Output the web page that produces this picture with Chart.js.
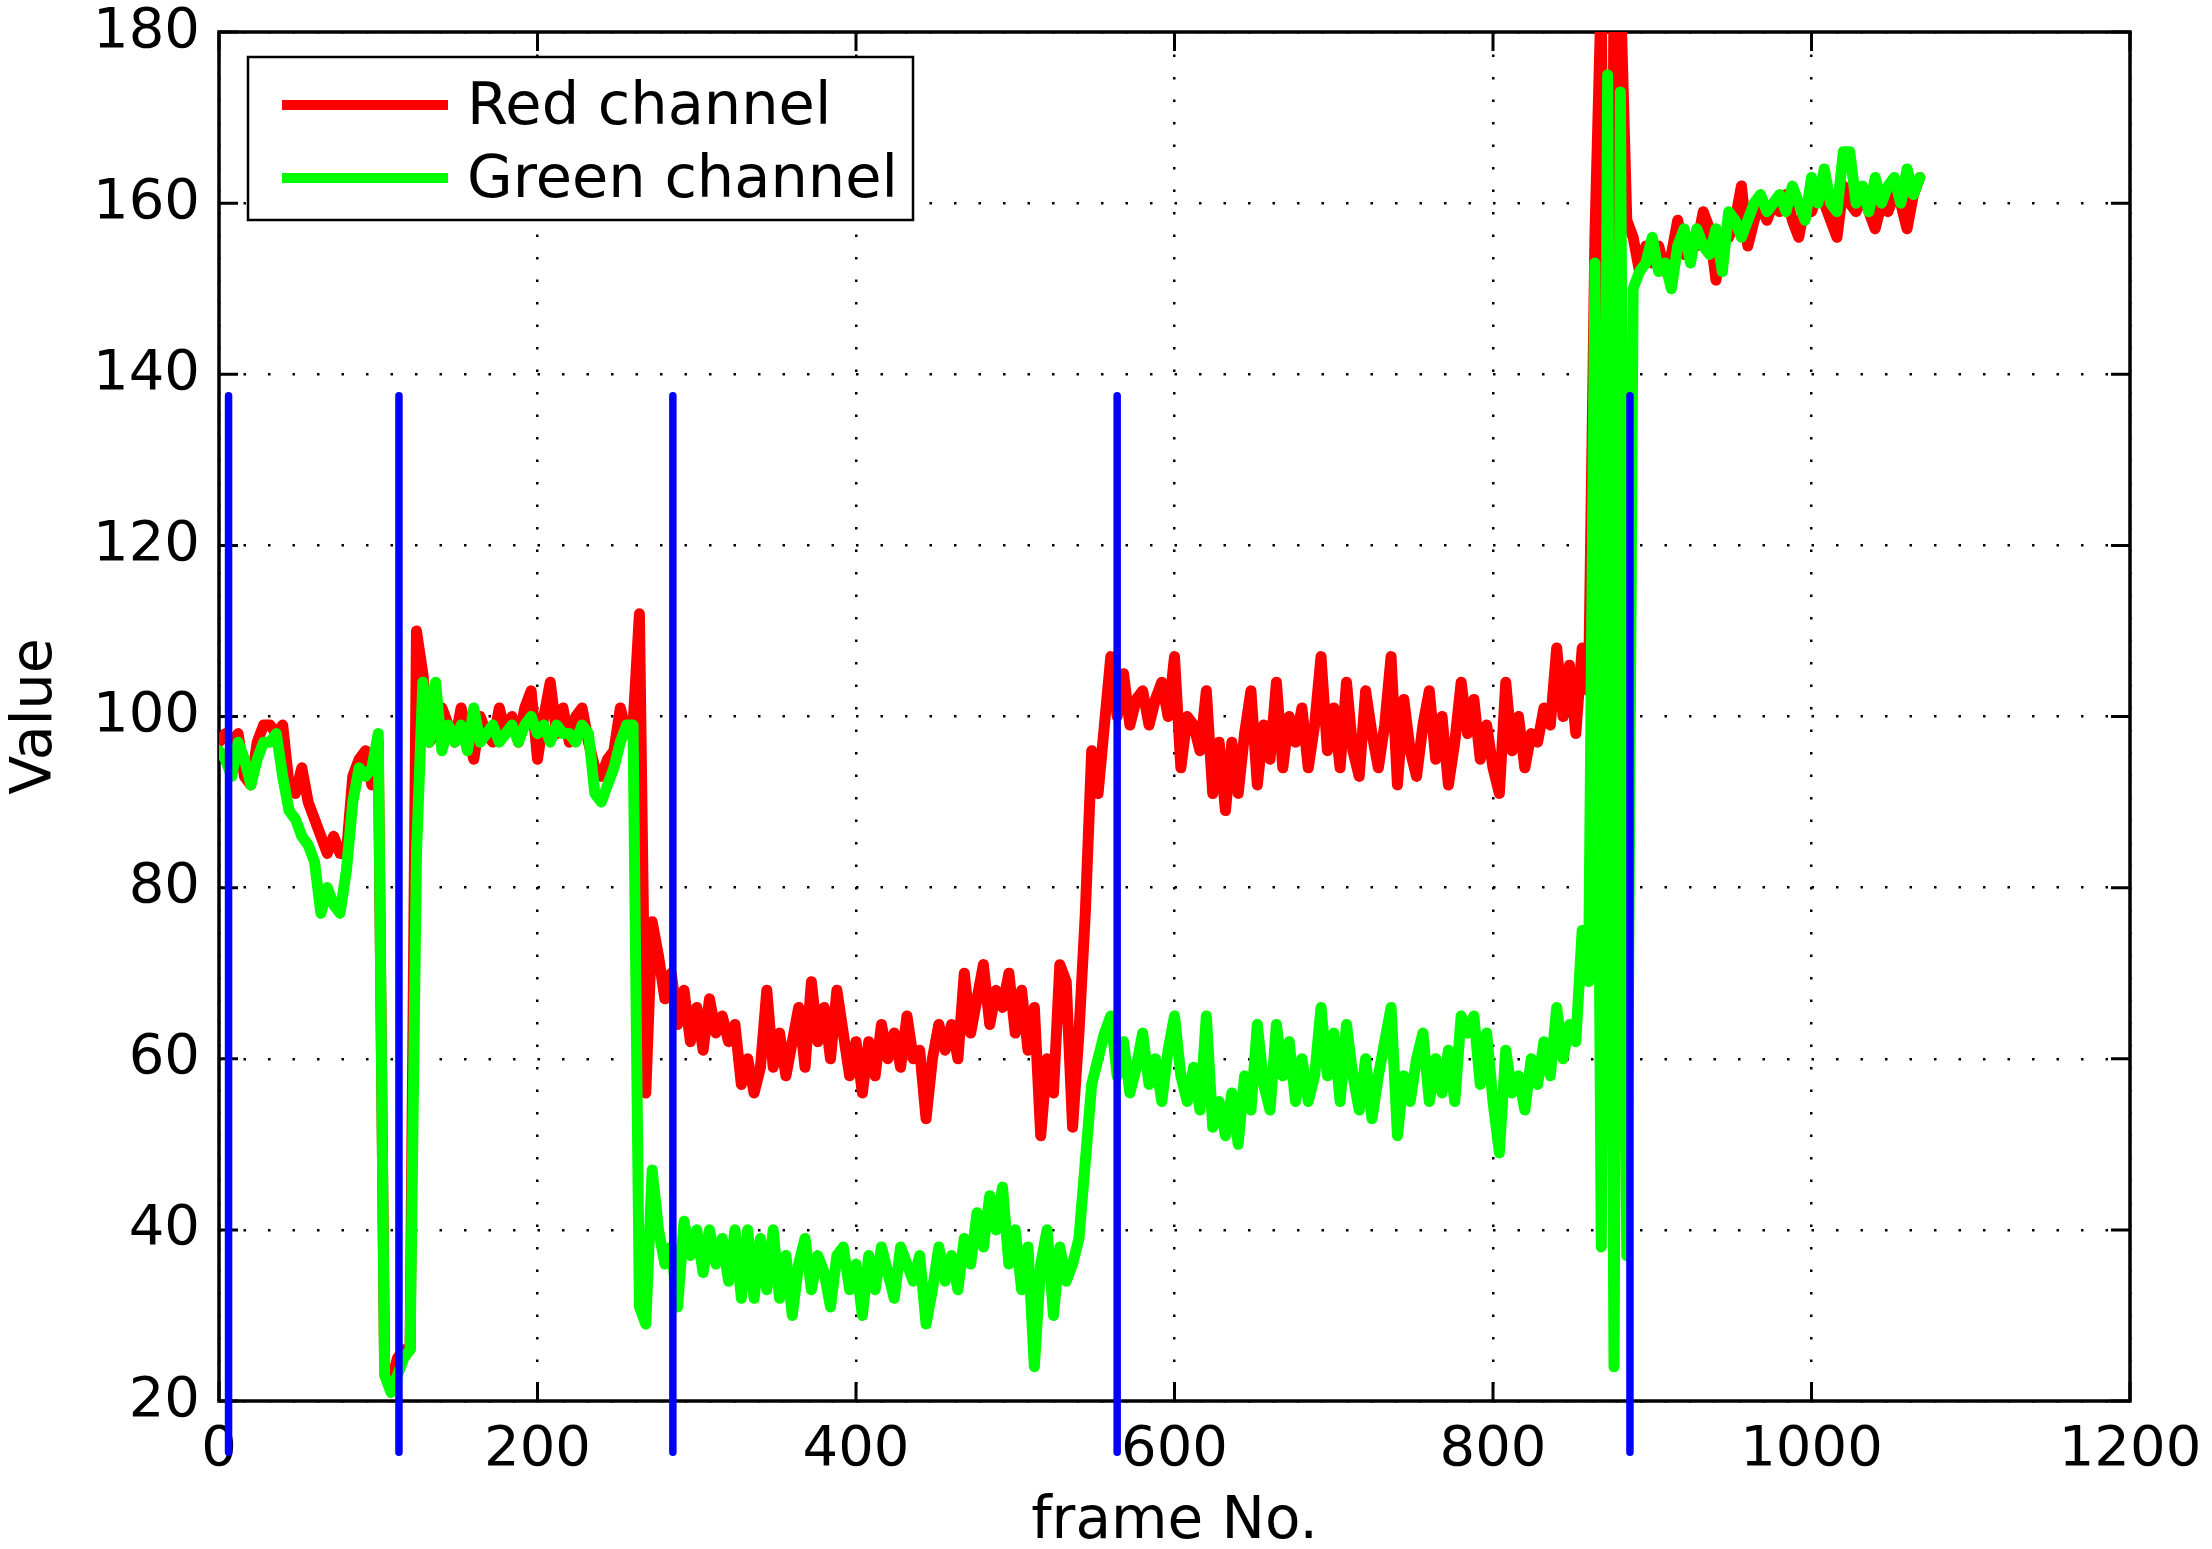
<!DOCTYPE html>
<html>
<head>
<meta charset="utf-8">
<title>Red / Green channel</title>
<script src="https://cdn.jsdelivr.net/npm/chart.js@4.4.1/dist/chart.umd.min.js"></script>
<style>
html,body{margin:0;padding:0;background:#fff;}
canvas{display:block;}
</style>
</head>
<body>
<canvas id="chart" width="2212" height="1549"></canvas>
<script>
// ---------- DATA ----------
// one sample every STEP frames, starting at frame 0
const STEP = 4;

const red = [
  97, 98, 97, 98, 93, 92, 97, 99, 99, 98,        // 0-36
  99, 92, 91, 94, 90, 88, 86, 84, 86, 84,        // 40-76
  84, 93, 95, 96, 92, 97, 24, 22, 25, 26,        // 80-116
  26, 110, 105, 97, 98, 101, 99, 97, 101, 98,    // 120-156
  95, 100, 98, 97, 101, 98, 100, 97, 101, 103,   // 160-196
  95, 100, 104, 98, 101, 97, 100, 101, 97, 94,   // 200-236
  93, 95, 96, 101, 98, 99, 112, 56, 76, 72,      // 240-276
  67, 70, 64, 68, 62, 66, 61, 67, 63, 65,        // 280-316
  62, 64, 57, 60, 56, 59, 68, 59, 63, 58,        // 320-356
  62, 66, 59, 69, 62, 66, 60, 68, 63, 58,        // 360-396
  62, 56, 62, 58, 64, 60, 63, 59, 65, 60,        // 400-436
  61, 53, 60, 64, 61, 64, 60, 70, 63, 67,        // 440-476
  71, 64, 68, 66, 70, 63, 68, 61, 66, 51,        // 480-516
  60, 56, 71, 69, 52, 63, 77, 96, 91, 99,        // 520-556
  107, 100, 105, 99, 102, 103, 99, 102, 104, 100,// 560-596
  107, 94, 100, 99, 96, 103, 91, 97, 89, 97,     // 600-636
  91, 98, 103, 92, 99, 95, 104, 94, 100, 97,     // 640-676
  101, 94, 99, 107, 96, 101, 94, 104, 96, 93,    // 680-716
  103, 98, 94, 99, 107, 92, 102, 96, 93, 99,     // 720-756
  103, 95, 100, 92, 97, 104, 98, 102, 95, 99,    // 760-796
  94, 91, 104, 96, 100, 94, 98, 97, 101, 99,     // 800-836
  108, 100, 106, 98, 108, 103, 156, 185, 58, 185,// 840-876
  185, 158, 156, 152, 155, 153, 155, 152, 154, 158, // 880-916
  154, 156, 155, 159, 157, 151, 156, 156, 158, 162, // 920-956
  155, 158, 160, 158, 160, 159, 161, 158, 156, 160, // 960-996
  159, 161, 160, 158, 156, 162, 160, 159, 161, 159, // 1000-1036
  157, 160, 159, 161, 160, 157, 161, 163            // 1040-1068
];

const green = [
  96, 95, 93, 97, 95, 92, 95, 97, 97, 98,        // 0-36
  93, 89, 88, 86, 85, 83, 77, 80, 78, 77,        // 40-76
  82, 90, 94, 93, 94, 98, 23, 21, 23, 25,        // 80-116
  26, 84, 104, 97, 104, 96, 99, 97, 99, 96,      // 120-156
  101, 97, 98, 99, 97, 98, 99, 97, 99, 100,      // 160-196
  98, 99, 97, 99, 98, 98, 97, 99, 98, 91,        // 200-236
  90, 92, 94, 97, 99, 99, 31, 29, 47, 40,        // 240-276
  36, 38, 31, 41, 37, 40, 35, 40, 36, 39,        // 280-316
  34, 40, 32, 40, 32, 39, 33, 40, 32, 37,        // 320-356
  30, 36, 39, 33, 37, 35, 31, 37, 38, 33,        // 360-396
  36, 30, 37, 33, 38, 35, 32, 38, 36, 34,        // 400-436
  37, 29, 33, 38, 34, 37, 33, 39, 36, 42,        // 440-476
  38, 44, 40, 45, 36, 40, 33, 38, 24, 36,        // 480-516
  40, 30, 38, 34, 36, 39, 48, 57, 60, 63,        // 520-556
  65, 58, 62, 56, 59, 63, 57, 60, 55, 61,        // 560-596
  65, 58, 55, 59, 54, 65, 52, 55, 51, 56,        // 600-636
  50, 58, 54, 64, 57, 54, 64, 58, 62, 55,        // 640-676
  60, 55, 58, 66, 58, 63, 55, 64, 58, 54,        // 680-716
  60, 53, 58, 62, 66, 51, 58, 55, 60, 63,        // 720-756
  55, 60, 56, 61, 55, 65, 63, 65, 57, 63,        // 760-796
  55, 49, 61, 56, 58, 54, 60, 57, 62, 58,        // 800-836
  66, 60, 64, 62, 75, 69, 153, 38, 175, 24,      // 840-876
  173, 37, 150, 152, 153, 156, 152, 153, 150, 155,  // 880-916
  157, 153, 157, 155, 154, 157, 152, 159, 158, 156, // 920-956
  158, 160, 161, 159, 160, 161, 159, 162, 160, 158, // 960-996
  163, 160, 164, 160, 159, 166, 166, 160, 162, 159, // 1000-1036
  163, 160, 162, 163, 160, 164, 161, 163            // 1040-1068
];

// blue markers (shot boundaries), drawn from blueLow to blueHigh
const blueFrames = [6, 113, 285, 564, 886];
const blueLow = 14;
const blueHigh = 137.5;

const xTicks = [0, 200, 400, 600, 800, 1000, 1200];
const yTicks = [20, 40, 60, 80, 100, 120, 140, 160, 180];

// ---------- BUILD POINTS ----------
const frames = red.map((v, i) => i * STEP);
const redPts = frames.map((f, i) => ({x: f, y: red[i]}));
const greenPts = frames.map((f, i) => ({x: f, y: green[i]}));
const bluePts = [];
blueFrames.forEach(f => {
  bluePts.push({x: f, y: blueLow}, {x: f, y: blueHigh}, {x: f, y: null});
});

// ---------- PLUGINS ----------
const FONT = '"DejaVu Sans", "Liberation Sans", Arial, sans-serif';
const TICK = 19;

// matlab style box with inward ticks on all four sides
const axesBox = {
  id: 'axesBox',
  beforeDatasetsDraw(chart){
    const {ctx, chartArea: a, scales: {x, y}} = chart;
    ctx.save();
    ctx.strokeStyle = '#000';
    ctx.lineWidth = 3;
    ctx.beginPath();
    xTicks.forEach(v => {
      const p = x.getPixelForValue(v);
      ctx.moveTo(p, a.bottom); ctx.lineTo(p, a.bottom - TICK);
      ctx.moveTo(p, a.top); ctx.lineTo(p, a.top + TICK);
    });
    yTicks.forEach(v => {
      const p = y.getPixelForValue(v);
      ctx.moveTo(a.left, p); ctx.lineTo(a.left + TICK, p);
      ctx.moveTo(a.right, p); ctx.lineTo(a.right - TICK, p);
    });
    ctx.stroke();
    ctx.lineWidth = 3.5;
    ctx.strokeRect(a.left, a.top, a.right - a.left, a.bottom - a.top);
    ctx.restore();
  }
};

// legend box inside the upper left corner
const boxLegend = {
  id: 'boxLegend',
  afterDatasetsDraw(chart){
    const {ctx, chartArea: a} = chart;
    const bx = a.left + 29, by = a.top + 25, bw = 665, bh = 163;
    ctx.save();
    ctx.fillStyle = '#fff';
    ctx.fillRect(bx, by, bw, bh);
    ctx.strokeStyle = '#000';
    ctx.lineWidth = 2.5;
    ctx.strokeRect(bx, by, bw, bh);
    const items = [chart.data.datasets[1], chart.data.datasets[0]];
    items.forEach((ds, i) => {
      const ly = by + 48 + i * 73;
      ctx.strokeStyle = ds.borderColor;
      ctx.lineWidth = 10;
      ctx.beginPath();
      ctx.moveTo(bx + 34, ly);
      ctx.lineTo(bx + 200, ly);
      ctx.stroke();
      ctx.fillStyle = '#000';
      ctx.font = '59px ' + FONT;
      ctx.textBaseline = 'middle';
      ctx.textAlign = 'left';
      ctx.fillText(ds.label, bx + 219, ly + 4);
    });
    ctx.restore();
  }
};

// ---------- CHART ----------
Chart.defaults.font.family = FONT;
Chart.defaults.color = '#000';

const ctx = document.getElementById('chart').getContext('2d');
const chart = new Chart(ctx, {
  type: 'line',
  data: {
    datasets: [
      {label: 'Green channel', data: greenPts, borderColor: '#00ff00', borderWidth: 11, order: 1, clip: 0},
      {label: 'Red channel', data: redPts, borderColor: '#ff0000', borderWidth: 11, order: 2, clip: 0},
      {label: 'blue', data: bluePts, borderColor: '#0000ff', borderWidth: 7.5, order: 0, clip: false, spanGaps: false}
    ]
  },
  options: {
    responsive: false,
    animation: false,
    events: [],
    elements: {
      point: {radius: 0},
      line: {tension: 0, borderJoinStyle: 'round', borderCapStyle: 'round'}
    },
    layout: {padding: {top: 32, right: 82, left: 0, bottom: 0}},
    plugins: {legend: {display: false}, tooltip: {enabled: false}},
    scales: {
      x: {
        type: 'linear', min: 0, max: 1200,
        afterBuildTicks: s => { s.ticks = xTicks.map(v => ({value: v})); },
        afterFit: s => { s.height = 148; s.paddingLeft = 0; s.paddingRight = 0; },
        ticks: {font: {size: 56}, padding: 16, maxRotation: 0, autoSkip: false, callback: v => String(v)},
        grid: {color: '#000', lineWidth: 2.5, drawTicks: false},
        border: {display: false, dash: [2.5, 20]},
        title: {display: true, text: 'frame No.', font: {size: 58, lineHeight: 0.9}, padding: {top: 0, bottom: 0}}
      },
      y: {
        type: 'linear', min: 20, max: 180,
        afterBuildTicks: s => { s.ticks = yTicks.map(v => ({value: v})); },
        afterFit: s => { s.width = 219; s.paddingTop = 0; s.paddingBottom = 0; },
        ticks: {font: {size: 56}, padding: 19, callback: v => String(v)},
        grid: {color: '#000', lineWidth: 2.5, drawTicks: false},
        border: {display: false, dash: [2.5, 22]},
        title: {display: true, text: 'Value', font: {size: 57}, padding: {top: 2, bottom: 0}}
      }
    }
  },
  plugins: [axesBox, boxLegend]
});
</script>
</body>
</html>
